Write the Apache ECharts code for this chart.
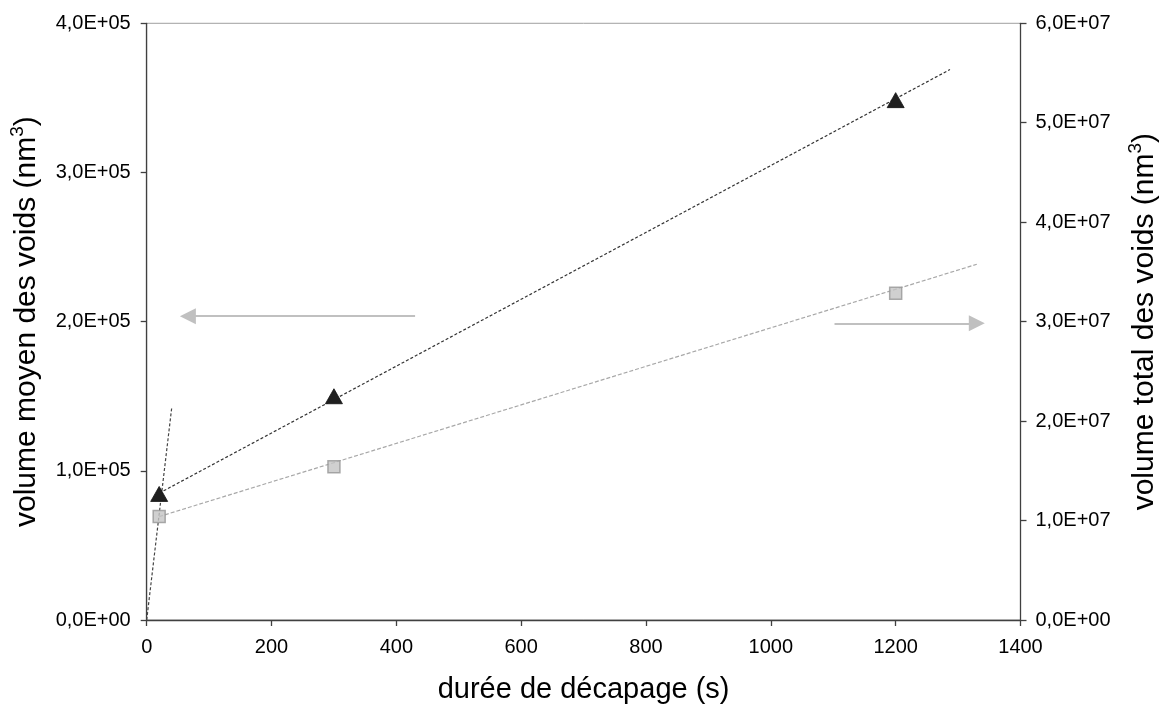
<!DOCTYPE html>
<html>
<head>
<meta charset="utf-8">
<script src="https://cdn.jsdelivr.net/npm/echarts@6/dist/echarts.min.js"></script>
<style>html,body{margin:0;padding:0;background:#fff}#c{width:1160px;height:704px}</style>
</head>
<body>
<div id="c"></div>
<script>
// Data
const times = [20, 300, 1200];                      // durée de décapage (s)
const volMoyen = [84500, 150000, 348500];           // volume moyen des voids (nm3), left axis
const volTotal = [1.04e7, 1.54e7, 3.285e7];         // volume total des voids (nm3), right axis
const trendMoyenX = [20, 1287];
const trendMoyenY = [85000, 369000];
const trendTotalX = [20, 1330];
const trendTotalY = [1.04e7, 3.577e7];
const steepX = [0, 40];
const steepY = [0, 142000];
const arrowLeftX = [430, 66];
const arrowLeftY = [203700, 203700];
const arrowRightX = [1102, 1330];
const arrowRightY = [198900, 198900];
const xTicks = {min: 0, max: 1400, interval: 200};
const yLeftTicks = {min: 0, max: 400000, interval: 100000};
const yRightTicks = {min: 0, max: 60000000, interval: 10000000};

function sci(v) {
  if (v === 0) return '0,0E+00';
  const e = Math.floor(Math.log10(Math.abs(v)) + 1e-9);
  const m = v / Math.pow(10, e);
  return m.toFixed(1).replace('.', ',') + 'E' + (e < 0 ? '-' : '+') + String(Math.abs(e)).padStart(2, '0');
}
const pairs = (xs, ys) => xs.map((x, i) => [x, ys[i]]);

const FONT = "'Liberation Sans', Arial, sans-serif";
const AX = '#404040';
const titleRich = {
  sup: {fontSize: 19, fontFamily: FONT, color: '#000', verticalAlign: 'top', lineHeight: 36, padding: [0, 0, 15, 0]}
};

const chart = echarts.init(document.getElementById('c'), null, {renderer: 'canvas'});
chart.setOption({
  animation: false,
  backgroundColor: '#fff',
  grid: {left: 146.7, right: 139.5, top: 23.3, bottom: 84, containLabel: false, outerBoundsMode: 'none',
         show: true, borderColor: '#a0a0a0', borderWidth: 1, backgroundColor: 'transparent'},
  xAxis: {
    type: 'value', min: xTicks.min, max: xTicks.max, interval: xTicks.interval,
    name: 'durée de décapage (s)', nameLocation: 'middle', nameGap: 55,
    nameTextStyle: {fontSize: 29, fontFamily: FONT, color: '#000'},
    axisLine: {show: true, onZero: false, lineStyle: {color: AX, width: 1.3}},
    axisTick: {show: true, inside: false, length: 6, lineStyle: {color: AX, width: 1.3}},
    axisLabel: {fontSize: 20, fontFamily: FONT, color: '#000', margin: 17, formatter: v => String(v)},
    splitLine: {show: false}
  },
  yAxis: [{
    type: 'value', position: 'left', min: yLeftTicks.min, max: yLeftTicks.max, interval: yLeftTicks.interval,
    name: 'volume moyen des voids (nm{sup|3})', nameLocation: 'middle', nameGap: 86,
    nameTextStyle: {fontSize: 30, fontFamily: FONT, color: '#000', lineHeight: 36, rich: titleRich},
    axisLine: {show: true, onZero: false, lineStyle: {color: AX, width: 1.3}},
    axisTick: {show: true, length: 6, lineStyle: {color: AX, width: 1.3}},
    axisLabel: {fontSize: 20, fontFamily: FONT, color: '#000', margin: 16, formatter: sci},
    splitLine: {show: false}
  }, {
    type: 'value', position: 'right', min: yRightTicks.min, max: yRightTicks.max, interval: yRightTicks.interval,
    name: 'volume total des voids (nm{sup|3})', nameLocation: 'middle', nameGap: 106,
    nameTextStyle: {fontSize: 30, fontFamily: FONT, color: '#000', lineHeight: 36, rich: titleRich},
    axisLine: {show: true, onZero: false, lineStyle: {color: AX, width: 1.3}},
    axisTick: {show: true, length: 6, lineStyle: {color: AX, width: 1.3}},
    axisLabel: {fontSize: 20, fontFamily: FONT, color: '#000', margin: 15, formatter: sci},
    splitLine: {show: false}
  }],
  series: [
    {
      type: 'line', yAxisIndex: 0, data: pairs(steepX, steepY), showSymbol: false, symbol: 'none', silent: true,
      lineStyle: {color: '#444', width: 1.2, type: [3, 2]}, z: 2,
      markLine: {
        silent: true, symbol: ['none', 'triangle'], symbolSize: 16, precision: 10,
        label: {show: false}, emphasis: {disabled: true},
        lineStyle: {color: '#c0c0c0', width: 2, type: 'solid'},
        itemStyle: {color: '#c0c0c0'},
        data: [
          [{coord: [arrowLeftX[0], arrowLeftY[0]]}, {coord: [arrowLeftX[1], arrowLeftY[1]]}],
          [{coord: [arrowRightX[0], arrowRightY[0]]}, {coord: [arrowRightX[1], arrowRightY[1]]}]
        ]
      }
    },
    {
      type: 'line', yAxisIndex: 0, data: pairs(trendMoyenX, trendMoyenY), showSymbol: false, symbol: 'none', silent: true,
      lineStyle: {color: '#333', width: 1.2, type: [3, 2]}, z: 2
    },
    {
      type: 'line', yAxisIndex: 1, data: pairs(trendTotalX, trendTotalY), showSymbol: false, symbol: 'none', silent: true,
      lineStyle: {color: '#a8a8a8', width: 1.2, type: [4, 2]}, z: 2
    },
    {
      type: 'scatter', yAxisIndex: 1, data: pairs(times, volTotal), symbol: 'rect', symbolSize: 12,
      itemStyle: {color: '#c4c4c4', borderColor: '#969696', borderWidth: 1.5}, z: 4
    },
    {
      type: 'scatter', yAxisIndex: 0, data: pairs(times, volMoyen), symbol: 'triangle', symbolSize: [17, 15],
      itemStyle: {color: '#1f1f1f', borderColor: '#111', borderWidth: 0.8, opacity: 1}, z: 5
    }
  ]
});
</script>
</body>
</html>
